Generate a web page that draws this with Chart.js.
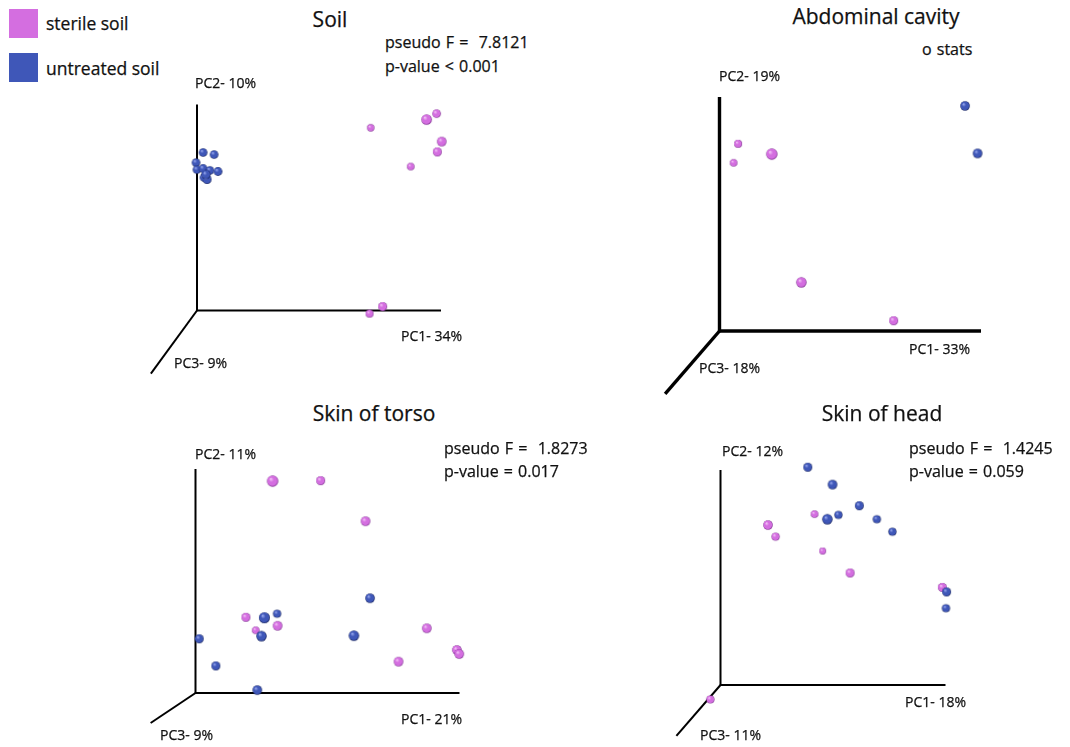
<!DOCTYPE html>
<html><head><meta charset="utf-8">
<script src="https://cdn.jsdelivr.net/npm/chart.js@4.4.1/dist/chart.umd.min.js"></script>
<style>
html,body{margin:0;padding:0;background:#fff;}
body{width:1070px;height:747px;position:relative;overflow:hidden;font-family:"Open Sans",sans-serif;color:#111;}
canvas{position:absolute;}
.t{position:absolute;white-space:pre;line-height:1;transform:translateY(-50%);z-index:2;-webkit-text-stroke:0.25px #111;}
.title{font-size:21px;transform:translate(-50%,-50%);}
.stat{font-size:16px;word-spacing:1px;}
.ax{font-size:14px;}
.leg{font-size:17.5px;}
.sw{position:absolute;width:29px;height:29px;z-index:2;}
</style></head><body>
<div class="sw" id="sw0" style="left:9px;top:9px;"></div>
<div class="sw" id="sw1" style="left:9px;top:53px;"></div>
<div id="texts"></div>
<script>
// ---------- data ----------
const groups = ["sterile soil", "untreated soil"];
const panelTitles = ["Soil", "Abdominal cavity", "Skin of torso", "Skin of head"];
const statLine1 = ["pseudo F =  7.8121", "o stats", "pseudo F =  1.8273", "pseudo F =  1.4245"];
const statLine2 = ["p-value < 0.001", "", "p-value = 0.017", "p-value = 0.059"];
const pc1Labels = ["PC1- 34%", "PC1- 33%", "PC1- 21%", "PC1- 18%"];
const pc2Labels = ["PC2- 10%", "PC2- 19%", "PC2- 11%", "PC2- 12%"];
const pc3Labels = ["PC3- 9%", "PC3- 18%", "PC3- 9%", "PC3- 11%"];

// projected PC3 axis direction (in PC1/PC2 axis units)
const pc3AxisX = [-0.189, -0.208, -0.170, -0.196];
const pc3AxisY = [-0.306, -0.269, -0.134, -0.237];

// Soil
const soilSterilePC1 = [0.712, 0.941, 0.982, 1.003, 0.985, 0.876, 0.707, 0.761];
const soilSterilePC2 = [0.887, 0.927, 0.956, 0.820, 0.770, 0.699, -0.015, 0.019];
const soilSterilePC3 = [-0.6, 1.0, 0.0, 0.5, 0.2, -0.5, -0.3, 0.2];
const soilUntreatedPC1 = [0.025, 0.070, -0.004, 0.000, 0.025, 0.053, 0.086, 0.029, 0.041, 0.037];
const soilUntreatedPC2 = [0.767, 0.757, 0.718, 0.684, 0.689, 0.680, 0.675, 0.646, 0.636, 0.660];
const soilUntreatedPC3 = [0.0, 0.0, 0.0, 0.0, 0.1, 0.0, 0.1, 0.1, 0.2, 0.3];

// Abdominal cavity
const abdSterilePC1 = [0.071, 0.054, 0.200, 0.313, 0.666];
const abdSterilePC2 = [0.800, 0.719, 0.756, 0.208, 0.044];
const abdSterilePC3 = [-0.3, -0.5, 1.4, 0.9, 0.2];
const abdUntreatedPC1 = [0.939, 0.987];
const abdUntreatedPC2 = [0.962, 0.759];
const abdUntreatedPC3 = [0.5, 0.5];

// Skin of torso
const torsoSterilePC1 = [0.292, 0.474, 0.644, 0.191, 0.228, 0.311, 0.876, 0.769, 0.990, 0.999];
const torsoSterilePC2 = [0.946, 0.948, 0.767, 0.338, 0.280, 0.300, 0.289, 0.140, 0.192, 0.174];
const torsoSterilePC3 = [1.4, 0.2, 0.5, 0.2, -0.5, 0.5, 0.5, 0.5, 0.5, 0.5];
const torsoUntreatedPC1 = [0.014, 0.077, 0.261, 0.309, 0.250, 0.661, 0.600, 0.234];
const torsoUntreatedPC2 = [0.242, 0.121, 0.336, 0.354, 0.254, 0.423, 0.256, 0.013];
const torsoUntreatedPC3 = [0.2, 0.2, 1.2, -0.2, 0.9, 0.5, 0.9, 0.5];

// Skin of head
const headSterilePC1 = [0.211, 0.245, 0.418, 0.454, 0.576, 0.986, -0.045];
const headSterilePC2 = [0.744, 0.690, 0.795, 0.623, 0.521, 0.454, -0.067];
const headSterilePC3 = [0.5, -0.2, -0.5, -0.9, 0.2, 0.2, -0.2];
const headUntreatedPC1 = [0.388, 0.498, 0.617, 0.475, 0.524, 0.695, 0.764, 1.005, 1.002];
const headUntreatedPC2 = [1.013, 0.932, 0.834, 0.771, 0.791, 0.771, 0.713, 0.433, 0.357];
const headUntreatedPC3 = [0.2, 0.5, 0.2, 0.9, -0.2, -0.2, -0.2, 0.2, -0.2];

// ---------- styling / layout ----------
const COLORS = {
  sterile: {base: '#d46ee0', light: '#f4c4f8', dark: '#7e3290'},
  untreated: {base: '#3f57b8', light: '#9aaaf0', dark: '#16235e'}
};
document.getElementById('sw0').style.background = COLORS.sterile.base;
document.getElementById('sw1').style.background = COLORS.untreated.base;

const layout = [
  {ox: 197, oy: 310.5, lenX: 244, lenY: 206, box: [110, 85, 380, 310], lw: 2,
   title: [330, 19], stat: [385, 42, 66], pc2: [195, 83], pc1: [401, 336], pc3: [174, 363]},
  {ox: 719.5, oy: 331, lenX: 261.5, lenY: 234, box: [640, 80, 380, 330], lw: 3.4,
   title: [876, 16], stat: [922, 49, 73], pc2: [719, 76], pc1: [909, 349], pc3: [699, 368]},
  {ox: 195.5, oy: 693, lenX: 264, lenY: 224, box: [120, 450, 370, 290], lw: 2,
   title: [374, 413], stat: [444, 448, 471], pc2: [195, 454], pc1: [401, 719], pc3: [160, 735]},
  {ox: 720.5, oy: 685, lenX: 225, lenY: 215, box: [660, 450, 320, 297], lw: 2,
   title: [882, 413], stat: [909, 448, 471], pc2: [722, 451], pc1: [905, 702], pc3: [700, 735]}
];

const panelData = [
  [soilSterilePC1, soilSterilePC2, soilSterilePC3, soilUntreatedPC1, soilUntreatedPC2, soilUntreatedPC3],
  [abdSterilePC1, abdSterilePC2, abdSterilePC3, abdUntreatedPC1, abdUntreatedPC2, abdUntreatedPC3],
  [torsoSterilePC1, torsoSterilePC2, torsoSterilePC3, torsoUntreatedPC1, torsoUntreatedPC2, torsoUntreatedPC3],
  [headSterilePC1, headSterilePC2, headSterilePC3, headUntreatedPC1, headUntreatedPC2, headUntreatedPC3]
];

// ---------- text ----------
const texts = document.getElementById('texts');
function addText(cls, str, x, y) {
  const d = document.createElement('div');
  d.className = 't ' + cls;
  d.textContent = str;
  d.style.left = x + 'px';
  d.style.top = y + 'px';
  texts.appendChild(d);
}
addText('leg', groups[0], 46, 24);
addText('leg', groups[1], 46, 69);
layout.forEach((L, i) => {
  addText('title', panelTitles[i], L.title[0], L.title[1]);
  addText('stat', statLine1[i], L.stat[0], L.stat[1]);
  if (statLine2[i]) addText('stat', statLine2[i], L.stat[0], L.stat[2]);
  addText('ax', pc2Labels[i], L.pc2[0], L.pc2[1]);
  addText('ax', pc1Labels[i], L.pc1[0], L.pc1[1]);
  addText('ax', pc3Labels[i], L.pc3[0], L.pc3[1]);
});

// ---------- sphere sprites ----------
const spriteCache = {};
function radiusOf(z) { return 4.3 + z; }
function sphere(col, r) {
  const key = col.base + r.toFixed(2);
  if (spriteCache[key]) return spriteCache[key];
  const s = Math.ceil(2 * r + 2);
  const c = document.createElement('canvas');
  c.width = s; c.height = s;
  const g = c.getContext('2d');
  const cx = s / 2, cy = s / 2;
  const grad = g.createRadialGradient(cx - r * 0.35, cy - r * 0.4, r * 0.05, cx, cy, r);
  grad.addColorStop(0, col.light);
  grad.addColorStop(0.4, col.base);
  grad.addColorStop(0.8, col.base);
  grad.addColorStop(1, col.dark);
  g.fillStyle = grad;
  g.beginPath(); g.arc(cx, cy, r, 0, Math.PI * 2); g.fill();
  spriteCache[key] = c;
  return c;
}

function pts(xs, ys) { return xs.map((x, i) => ({x: x, y: ys[i]})); }

// ---------- charts ----------
layout.forEach((L, i) => {
  const [sx, sy, sz, ux, uy, uz] = panelData[i];
  const cv = document.createElement('canvas');
  const [bl, bt, bw, bh] = L.box;
  cv.width = bw; cv.height = bh;
  cv.style.left = bl + 'px'; cv.style.top = bt + 'px';
  cv.style.width = bw + 'px'; cv.style.height = bh + 'px';
  document.body.appendChild(cv);

  const xmin = (bl - L.ox) / L.lenX, xmax = (bl + bw - L.ox) / L.lenX;
  const ymax = (L.oy - bt) / L.lenY, ymin = (L.oy - bt - bh) / L.lenY;

  const pointDs = (label, xs, ys, zs, col, order) => ({
    type: 'scatter', label: label, data: pts(xs, ys), order: order, clip: false,
    pointStyle: ctx => sphere(col, radiusOf(zs[ctx.dataIndex] || 0)),
    pointRadius: ctx => radiusOf(zs[ctx.dataIndex] || 0),
    backgroundColor: col.base, borderWidth: 0
  });

  new Chart(cv, {
    type: 'scatter',
    data: {
      datasets: [
        pointDs(groups[1], ux, uy, uz, COLORS.untreated, 0),
        pointDs(groups[0], sx, sy, sz, COLORS.sterile, 1),
        {type: 'line', label: 'axes', data: [{x: 0, y: 1}, {x: 0, y: 0}, {x: 1, y: 0}],
         borderColor: '#000', borderWidth: L.lw, pointRadius: 0, fill: false, tension: 0,
         borderJoinStyle: 'miter', borderCapStyle: 'butt', order: 5, clip: false},
        {type: 'line', label: 'pc3', data: [{x: 0, y: 0}, {x: pc3AxisX[i], y: pc3AxisY[i]}],
         borderColor: '#000', borderWidth: L.lw, pointRadius: 0, fill: false, tension: 0,
         borderCapStyle: 'butt', order: 6, clip: false}
      ]
    },
    options: {
      responsive: false, animation: false, devicePixelRatio: 1,
      layout: {padding: 0, autoPadding: false},
      events: [],
      plugins: {legend: {display: false}, tooltip: {enabled: false}},
      scales: {
        x: {type: 'linear', min: xmin, max: xmax, display: false},
        y: {type: 'linear', min: ymin, max: ymax, display: false}
      }
    }
  });
});
</script>
</body></html>
